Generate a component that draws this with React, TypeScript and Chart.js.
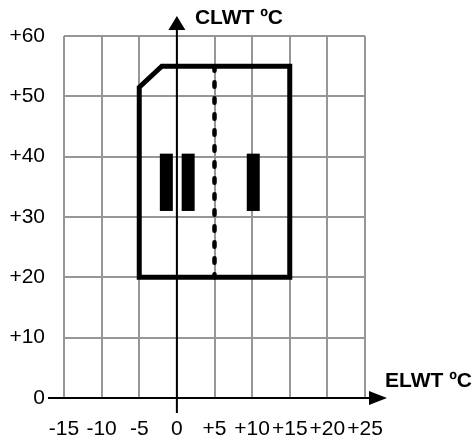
import React, { useEffect, useRef } from "react";
import { Chart, registerables } from "chart.js";

Chart.register(...registerables);

// ---- data ----
const xTickValues = [-15, -10, -5, 0, 5, 10, 15, 20, 25];
const xTickLabels = ["-15", "-10", "-5", "0", "+5", "+10", "+15", "+20", "+25"];
const yTickValues = [0, 10, 20, 30, 40, 50, 60];
const yTickLabels = ["0", "+10", "+20", "+30", "+40", "+50", "+60"];

const envelopeX = [-5, -5, -2, 15, 15, -5];
const envelopeY = [20, 51.5, 55, 55, 20, 20];

const dividerX = [5, 5];
const dividerY = [55, 20];

const barX = [-1.4, 1.5, 10.15];
const barLow = [31, 31, 31];
const barHigh = [40.5, 40.5, 40.5];

const yAxisTitle = "CLWT ºC";
const xAxisTitle = "ELWT ºC";

const FONT = "'Liberation Sans', Arial, Helvetica, sans-serif";

const axesPlugin = {
  id: "customAxes",
  afterDatasetsDraw(chart: any) {
    const { ctx, chartArea, scales } = chart;
    const xs = scales.x;
    const ys = scales.y;
    const x0 = xs.getPixelForValue(0);
    const y0 = ys.getPixelForValue(0);
    ctx.save();
    ctx.strokeStyle = "#000";
    ctx.fillStyle = "#000";
    ctx.lineWidth = 2;
    // vertical axis
    const vTip = chartArea.top - 20;
    const vBase = chartArea.top - 6;
    ctx.beginPath();
    ctx.moveTo(x0, y0 + 15);
    ctx.lineTo(x0, vBase);
    ctx.stroke();
    ctx.beginPath();
    ctx.moveTo(x0, vTip);
    ctx.lineTo(x0 - 8.5, vBase);
    ctx.lineTo(x0 + 8.5, vBase);
    ctx.closePath();
    ctx.fill();
    // horizontal axis
    const hTip = chartArea.right + 22;
    const hBase = chartArea.right + 4;
    ctx.beginPath();
    ctx.moveTo(chartArea.left - 16, y0);
    ctx.lineTo(hBase, y0);
    ctx.stroke();
    ctx.beginPath();
    ctx.moveTo(hTip, y0);
    ctx.lineTo(hBase, y0 - 7);
    ctx.lineTo(hBase, y0 + 7);
    ctx.closePath();
    ctx.fill();
    // titles
    ctx.font = `bold 21px ${FONT}`;
    ctx.textAlign = "left";
    ctx.textBaseline = "alphabetic";
    ctx.fillText(yAxisTitle, x0 + 18, chartArea.top - 12);
    ctx.fillText(xAxisTitle, chartArea.right + 20, y0 - 11);
    ctx.restore();
  },
};

export default function App() {
  const ref = useRef<HTMLCanvasElement>(null);
  useEffect(() => {
    if (!ref.current) return;
    const datasets: any[] = [];
    datasets.push({
      data: dividerX.map((x, i) => ({ x, y: dividerY[i] })),
      showLine: true,
      borderColor: "#000",
      borderWidth: 4.5,
      borderDash: [4.5, 11.5],
      borderCapStyle: "round",
      pointRadius: 0,
    });
    datasets.push({
      data: envelopeX.map((x, i) => ({ x, y: envelopeY[i] })),
      showLine: true,
      borderColor: "#000",
      borderWidth: 5,
      borderJoinStyle: "miter",
      borderCapStyle: "square",
      pointRadius: 0,
    });
    barX.forEach((x, i) => {
      datasets.push({
        data: [
          { x, y: barLow[i] },
          { x, y: barHigh[i] },
        ],
        showLine: true,
        borderColor: "#000",
        borderWidth: 13,
        borderCapStyle: "butt",
        pointRadius: 0,
      });
    });
    const chart = new Chart(ref.current, {
      type: "scatter",
      data: { datasets },
      plugins: [axesPlugin],
      options: {
        animation: false,
        responsive: false,
        devicePixelRatio: 1,
        layout: { padding: { top: 36, right: 109, left: 0, bottom: 0 } },
        plugins: { legend: { display: false }, tooltip: { enabled: false } },
        scales: {
          x: {
            type: "linear",
            min: -15,
            max: 25,
            afterBuildTicks: (s: any) => {
              s.ticks = xTickValues.map((v) => ({ value: v }));
            },
            afterFit: (s: any) => {
              s.height = 46;
            },
            border: { display: false },
            grid: { color: "#969696", lineWidth: 2, drawTicks: false },
            ticks: {
              autoSkip: false,
              maxRotation: 0,
              minRotation: 0,
              padding: 19,
              color: "#000",
              font: { family: FONT, size: 21 },
              callback: (v: any) => xTickLabels[xTickValues.indexOf(Number(v))] ?? "",
            },
          },
          y: {
            type: "linear",
            min: 0,
            max: 60,
            afterBuildTicks: (s: any) => {
              s.ticks = yTickValues.map((v) => ({ value: v }));
            },
            afterFit: (s: any) => {
              s.width = 64;
            },
            border: { display: false },
            grid: { color: "#969696", lineWidth: 2, drawTicks: false },
            ticks: {
              autoSkip: false,
              padding: 19,
              color: "#000",
              font: { family: FONT, size: 21 },
              callback: (v: any) => yTickLabels[yTickValues.indexOf(Number(v))] ?? "",
            },
          },
        },
      },
    });
    return () => chart.destroy();
  }, []);
  return (
    <div style={{ position: "fixed", left: 0, top: 0, width: 474, height: 444 }}>
      <canvas ref={ref} width={474} height={444} />
    </div>
  );
}
